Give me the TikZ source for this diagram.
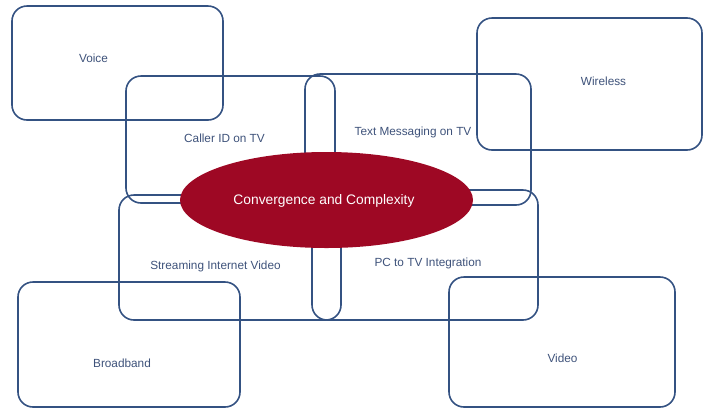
\documentclass[tikz,border=0pt]{standalone}
\usepackage{fontspec}
\setmainfont{Liberation Sans}
\usetikzlibrary{shapes.geometric}
\definecolor{linec}{RGB}{52,82,130}
\definecolor{textc}{RGB}{62,82,122}
\definecolor{redc}{RGB}{158,8,36}
\begin{document}
\begin{tikzpicture}[x=1pt,y=-1pt,
  box/.style={draw=linec, line width=1.6pt, rounded corners=15pt, inner sep=0pt, outer sep=0pt, rectangle},
  lbl/.style={text=textc, font=\fontsize{11.8}{14}\selectfont, inner sep=0pt},
  hub/.style={ellipse, fill=redc, draw=none, inner sep=0pt, text=white, font=\fontsize{13.8}{16}\selectfont}]
\useasboundingbox (0,0) rectangle (703,408);
% outer boxes
\node[box, minimum width=211pt, minimum height=114pt] (voice) at (117.5,63) {};
\node[box, minimum width=225pt, minimum height=132pt] (wireless) at (589.5,84) {};
\node[box, minimum width=222pt, minimum height=125pt] (broadband) at (129,344.5) {};
\node[box, minimum width=226pt, minimum height=130pt] (video) at (562,342) {};
% inner boxes
\node[box, minimum width=209pt, minimum height=127pt] (caller) at (230.5,139.5) {};
\node[box, minimum width=226pt, minimum height=131pt] (textmsg) at (418,139.5) {};
\node[box, minimum width=222pt, minimum height=125pt] (stream) at (230,257.5) {};
\node[box, minimum width=226pt, minimum height=130pt] (pctv) at (425,255) {};
% hub
\node[hub, minimum width=293pt, minimum height=96pt] (hubnode) at (326.5,200) {};
\node[text=white, font=\fontsize{13.8}{16}\selectfont, inner sep=0pt] (hubtext) at (324,201) {Convergence and Complexity};
% labels
\node[lbl] (lvoice) at (93.5,58) {Voice};
\node[lbl] (lwireless) at (603.5,81) {Wireless};
\node[lbl] (lbroad) at (122,363) {Broadband};
\node[lbl] (lvideo) at (562.5,358) {Video};
\node[lbl] (lcaller) at (224.5,138) {Caller ID on TV};
\node[lbl] (ltext) at (413,132) {Text Messaging on TV};
\node[lbl] (lstream) at (215.5,266) {Streaming Internet Video};
\node[lbl] (lpc) at (428,263) {PC to TV Integration};
\end{tikzpicture}
\end{document}
